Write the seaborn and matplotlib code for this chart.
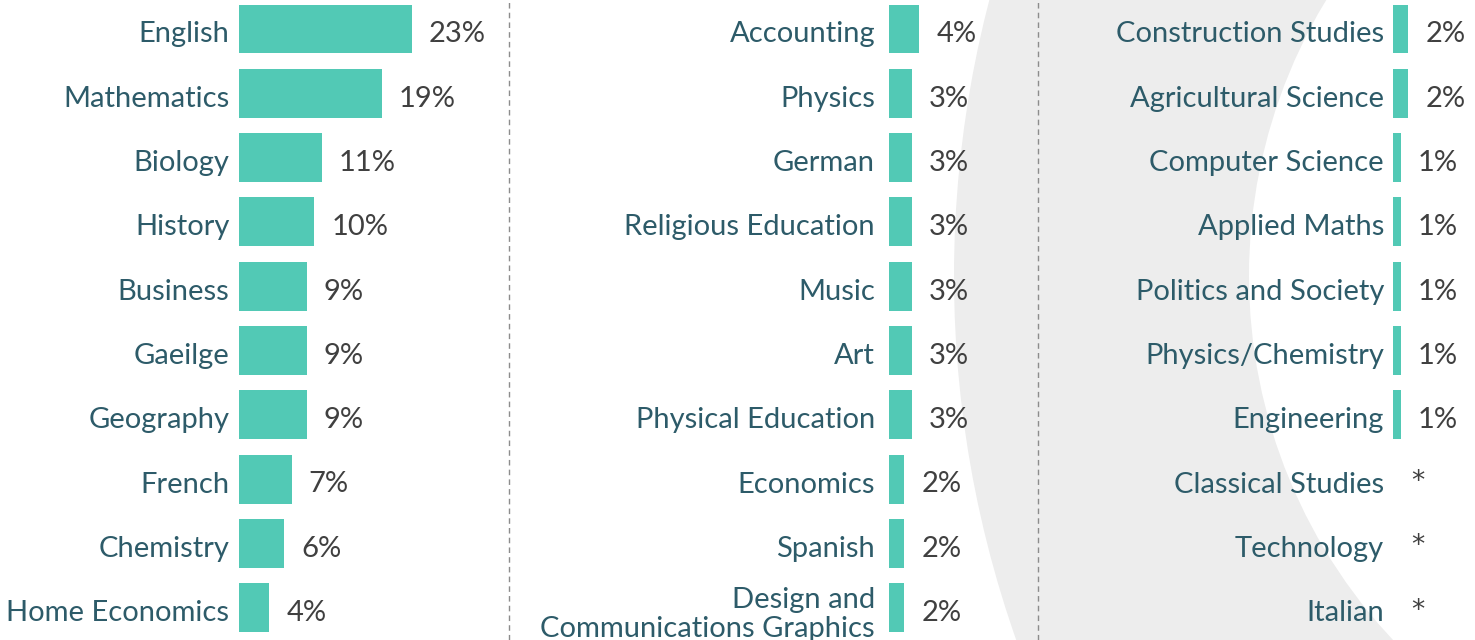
import matplotlib
matplotlib.use("Agg")
import matplotlib.pyplot as plt
import matplotlib.transforms as mtransforms
import seaborn as sns
import pandas as pd
from matplotlib.patches import Circle

# subjects shown in three columns, share of students (%)
subjects_1 = ['English', 'Mathematics', 'Biology', 'History', 'Business',
              'Gaeilge', 'Geography', 'French', 'Chemistry', 'Home Economics']
values_1 = [23, 19, 11, 10, 9, 9, 9, 7, 6, 4]

subjects_2 = ['Accounting', 'Physics', 'German', 'Religious Education', 'Music',
              'Art', 'Physical Education', 'Economics', 'Spanish',
              'Design and\nCommunications Graphics']
values_2 = [4, 3, 3, 3, 3, 3, 3, 2, 2, 2]

subjects_3 = ['Construction Studies', 'Agricultural Science', 'Computer Science',
              'Applied Maths', 'Politics and Society', 'Physics/Chemistry',
              'Engineering', 'Classical Studies', 'Technology', 'Italian']
values_3 = [2, 2, 1, 1, 1, 1, 1, 0, 0, 0]   # 0 = less than 0.5%, shown as *

sns.set_theme(style="white")
plt.rcParams['font.family'] = ['Lato', 'DejaVu Sans']

BAR = '#52c9b5'
LABEL = '#2d5b69'
VALUE = '#404040'
W, H = 1475, 640
PX_PER_PCT = 7.5

fig = plt.figure(figsize=(W / 100, H / 100), dpi=100)

# background: grey crescent and dashed separators
bg = fig.add_axes([0, 0, 1, 1])
bg.set_xlim(0, W)
bg.set_ylim(H, 0)
bg.axis('off')
bg.add_patch(Circle((2050, 276), 1096, color='#ededed', lw=0))
bg.add_patch(Circle((1781, 276), 532, color='white', lw=0))
for xs in [509, 1038]:
    bg.axvline(xs, color='#8c8c8c', lw=1, ls=(0, (4, 3)))

panels = [
    (subjects_1, values_1, 239, 261, 7),
    (subjects_2, values_2, 889, 141, 10),
    (subjects_3, values_3, 1393, 82, 6.5),
]

shift = mtransforms.ScaledTranslation(0, -3 / 100, fig.dpi_scale_trans)

for subjects, values, left, width, pad in panels:
    ax = fig.add_axes([left / W, 0, width / W, 1])
    ax.patch.set_alpha(0)
    df = pd.DataFrame({'subject': subjects, 'value': values})
    sns.barplot(data=df, x='value', y='subject', orient='h', color=BAR,
                saturation=1, width=0.76, linewidth=0, ax=ax)
    ax.set_xlim(0, width / PX_PER_PCT)
    ax.set_ylim(9.5, -0.45)
    ax.set_xlabel('')
    ax.set_ylabel('')
    ax.set_xticks([])
    ax.tick_params(axis='y', length=0, pad=pad, labelsize=21, labelcolor=LABEL)
    for lab in ax.get_yticklabels():
        lab.set_linespacing(1.15)
        lab.set_transform(lab.get_transform() + shift)
    sns.despine(ax=ax, left=True, bottom=True)
    for i, v in enumerate(values):
        if v > 0:
            ax.annotate(f'{v}%', (v, i), xytext=(12.5, -2), textcoords='offset points',
                        ha='left', va='center_baseline', fontsize=21, color=VALUE)
        else:
            ax.annotate('*', (v, i), xytext=(13, -2), textcoords='offset points',
                        ha='left', va='center', fontsize=19,
                        family='DejaVu Sans', color=VALUE)

fig.savefig('out.png', dpi=100)
